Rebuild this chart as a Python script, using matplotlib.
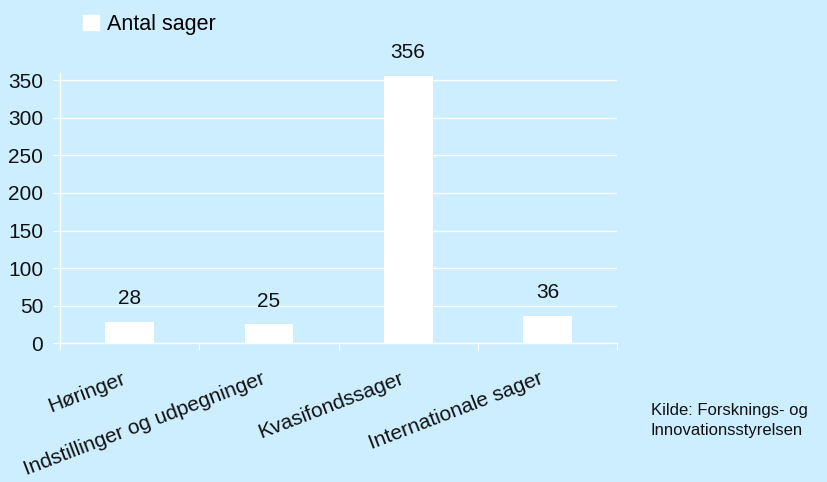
import matplotlib
matplotlib.use('Agg')
import matplotlib.pyplot as plt
import matplotlib.patches as mpatches

plt.rcParams['font.family'] = ['Liberation Sans', 'DejaVu Sans']

categories = ['Høringer', 'Indstillinger og udpegninger', 'Kvasifondssager', 'Internationale sager']
values = [28, 25, 356, 36]
yticks = [0, 50, 100, 150, 200, 250, 300, 350]

bg = '#cceeff'
fig = plt.figure(figsize=(8.27, 4.82), dpi=100, facecolor=bg)
ax = fig.add_axes([0.0726, 0.288, 0.6735, 0.561])
ax.set_facecolor(bg)

x = list(range(len(categories)))
ax.bar(x, values, width=0.35, color='white', zorder=3)
for xi, v in zip(x, values):
    ax.annotate(str(v), (xi, v), xytext=(0, 10), textcoords='offset points',
                ha='center', va='bottom', fontsize=15, color='#111111')

ax.set_xlim(-0.5, len(categories) - 0.5)
ax.set_ylim(0, 360)
ax.set_yticks(yticks)
ax.tick_params(axis='y', labelsize=15, colors='white', labelcolor='#111111', length=5, pad=7)
ax.grid(axis='y', color='white', lw=0.9, zorder=1)

# category boundary ticks
ax.set_xticks([i - 0.5 for i in range(len(categories) + 1)])
ax.set_xticklabels([])
ax.tick_params(axis='x', colors='white', length=5)
for xi, lab in zip(x, categories):
    ax.text(xi - 0.06, -34, lab, rotation=21, ha='right', va='top', rotation_mode='anchor',
            fontsize=15, color='#111111')

for side in ['top', 'right']:
    ax.spines[side].set_visible(False)
for side in ['left', 'bottom']:
    ax.spines[side].set_color('white')
    ax.spines[side].set_linewidth(1.0)

handles = [mpatches.Patch(color='white', label='Antal sager')]
fig.legend(handles=handles, loc='upper left', bbox_to_anchor=(0.083, 1.0), frameon=False,
           fontsize=15.5, handlelength=0.75, handleheight=0.75, handletextpad=0.4,
           borderpad=0.15)

fig.text(0.787, 0.127, 'Kilde: Forsknings- og\nInnovationsstyrelsen', fontsize=12,
         color='#111111', va='center', ha='left', linespacing=1.4)

plt.savefig('out.png', dpi=100, facecolor=bg)
